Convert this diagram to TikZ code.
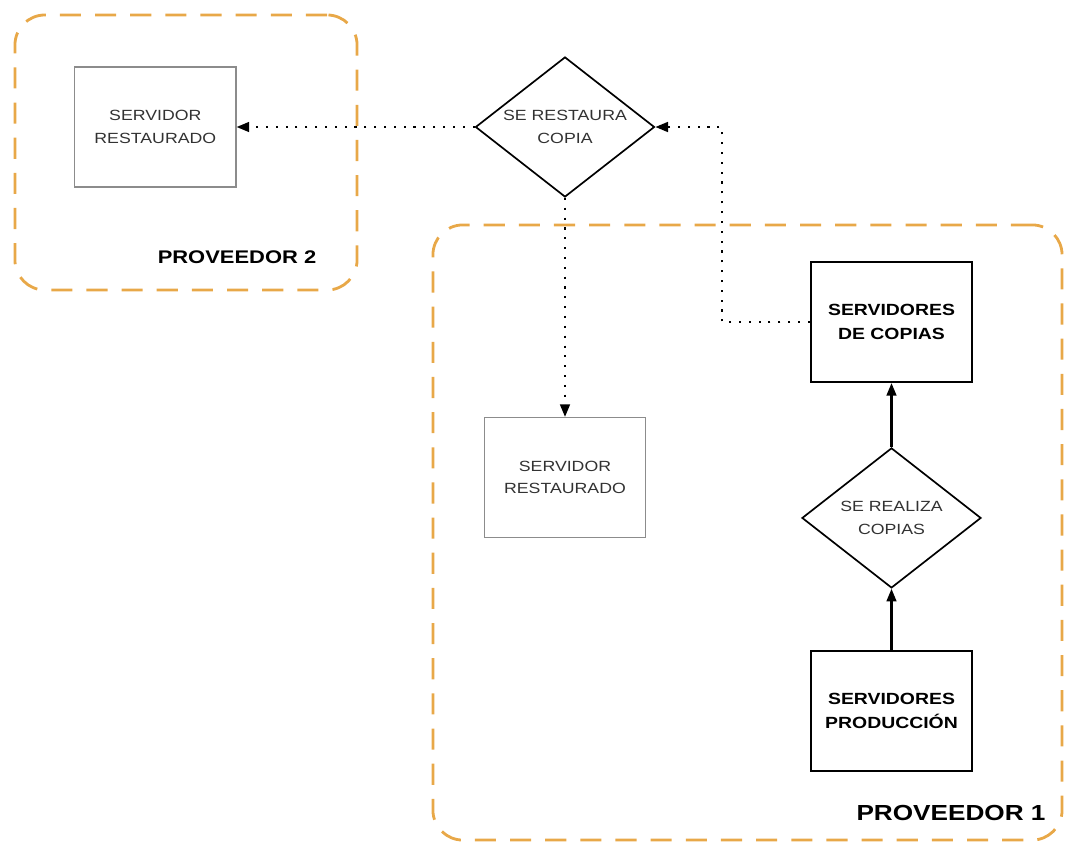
\documentclass[tikz,border=0pt]{standalone}
\usepackage{fontspec}
\setmainfont{Liberation Sans}[FakeStretch=1.2]
\usetikzlibrary{positioning, arrows.meta, shapes.geometric}
\definecolor{provorange}{RGB}{232,168,72}
\definecolor{txtgray}{RGB}{50,50,50}
\definecolor{boxgray}{RGB}{140,140,140}

\begin{document}
\begin{tikzpicture}[
    x=0.025cm, y=-0.025cm,
    box/.style={draw=boxgray, line width=0.9pt, rectangle, align=center, text=txtgray,
        font=\fontsize{10.5}{16}\selectfont, minimum width=4.03cm, minimum height=3cm},
    bbox/.style={draw=black, line width=1.5pt, rectangle, align=center,
        font=\fontsize{11.5}{17}\selectfont\bfseries, minimum width=4.03cm, minimum height=3cm},
    decision/.style={draw=black, line width=1.2pt, diamond, aspect=1.28, inner sep=0pt, align=center,
        text=txtgray, font=\fontsize{10.5}{16}\selectfont, minimum width=4.475cm, minimum height=3.5cm},
    group/.style={draw=provorange, line width=2pt, rectangle, rounded corners=0.75cm,
        dash pattern=on 15pt off 10pt},
    dotarr/.style={line width=1.5pt, dash pattern=on 1.5pt off 5.5pt, -{Triangle[length=9pt, width=7pt]}},
    arr/.style={line width=1.5pt, -{Triangle[length=9pt, width=7pt]}}
]
    \useasboundingbox (0,0) rectangle (1066,843);

    % Proveedor 2
    \node[group, minimum width=8.55cm, minimum height=6.875cm] (prov2) at (186,152.5) {};
    \node[font=\fontsize{13}{13}\selectfont\bfseries] (prov2lbl) at (237,257) {PROVEEDOR 2};

    % Proveedor 1
    \node[group, minimum width=15.725cm, minimum height=15.375cm] (prov1) at (747.5,532.5) {};
    \node[font=\fontsize{15.5}{15.5}\selectfont\bfseries] (prov1lbl) at (951,813) {PROVEEDOR 1};

    % Restore
    \node[decision] (restaura) at (565,127) {SE RESTAURA\\COPIA};
    \node[box] (rest2) [left=5.95cm of restaura] {SERVIDOR\\RESTAURADO};
    \node[box] (rest1) [below=5.475cm of restaura] {SERVIDOR\\RESTAURADO};

    % Backup chain
    \node[bbox] (copias) at (891.5,322) {SERVIDORES\\DE COPIAS};
    \node[decision] (realiza) [below=1.6cm of copias] {SE REALIZA\\COPIAS};
    \node[bbox] (produccion) [below=1.525cm of realiza] {SERVIDORES\\PRODUCCIÓN};

    \draw[arr] (produccion) -- (realiza);
    \draw[arr] (realiza) -- (copias);
    \draw[dotarr] (copias.west) -- ++(-88,0) |- (restaura.east);
    \draw[dotarr] (restaura.west) -- (rest2.east);
    \draw[dotarr] (restaura.south) -- (rest1.north);
\end{tikzpicture}
\end{document}
